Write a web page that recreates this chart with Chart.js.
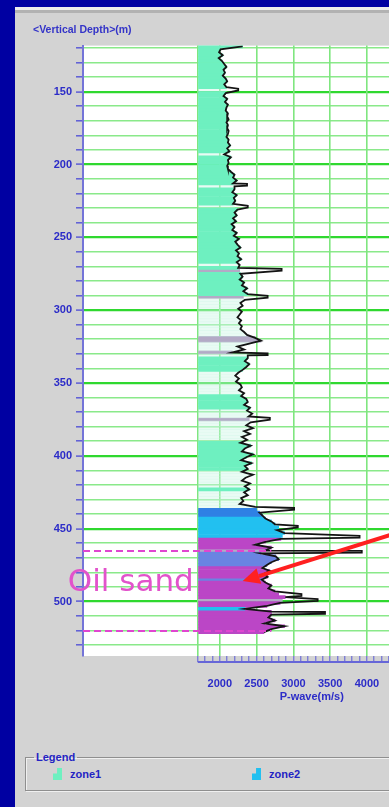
<!DOCTYPE html>
<html>
<head>
<meta charset="utf-8">
<title>P-wave log</title>
<script src="https://cdn.jsdelivr.net/npm/chart.js@4/dist/chart.umd.min.js"></script>
<style>
  html, body { margin: 0; padding: 0; }
  body { width: 389px; height: 807px; background: #0000a2; position: relative; overflow: hidden; }
  #panel { position: absolute; left: 15px; top: 7px; right: 0; bottom: 0; background: #d3d3d3;
           box-shadow: inset 0 3px 0 #ececec, inset 0 6px 0 #b2b2b2; }
  #log { position: absolute; left: 15px; top: 13px; }
  #legend { position: absolute; left: 25px; top: 751px; width: 440px; height: 40px; box-sizing: border-box;
            margin: 0; padding: 0; border: 1px solid #8f8f8f;
            box-shadow: inset 1px 1px 0 #f0f0f0, 1px 1px 0 #f0f0f0; }
  #legend legend { margin-left: 8px; padding: 0 2px; color: #2424c4;
                   font: bold 11px 'Liberation Sans', Arial, sans-serif; }
  #items { display: flex; padding-left: 27px; margin-top: 5px; white-space: nowrap; }
  .item { width: 199px; flex: none; display: flex; align-items: center; color: #2424c4;
          font: bold 11px 'Liberation Sans', Arial, sans-serif; }
  .icon { width: 9px; height: 12px; margin-right: 8px;
          clip-path: polygon(0 45%, 45% 45%, 45% 0, 100% 0, 100% 100%, 0 100%); }
</style>
</head>
<body>
<div id="panel"></div>
<canvas id="log" width="374" height="703"></canvas>
<fieldset id="legend"><legend>Legend</legend><div id="items"></div></fieldset>
<script>
// Depth sampling of the log (m): first sample and interval
const DEPTH_TOP = 119;
const DEPTH_STEP = 2;

// P-wave velocity (m/s) on the depth grid, rows of ten
const VP = [
  2310, 2010, 1990, 2040, 1985, 2030, 2060, 2090, 2050, 2070,   // 119-137
  2040, 2080, 2100, 2060, 2090, 2090, 2080, 2050, 2100, 2070,   // 139-157
  2110, 2090, 2080, 2110, 2100, 2120, 2090, 2110, 2100, 2120,   // 159-177
  2110, 2090, 2120, 2110, 2140, 2100, 2130, 2060, 2150, 2110,   // 179-197
  2120, 2100, 2110, 2150, 2200, 2180, 2230, 2180, 2200, 2200,   // 199-217
  2170, 2230, 2190, 2210, 2180, 2200, 2240, 2200, 2230, 2180,   // 219-237
  2220, 2160, 2200, 2170, 2230, 2190, 2260, 2210, 2240, 2280,   // 239-257
  2220, 2260, 2240, 2290, 2230, 2270, 2250, 2270, 2280, 2310,   // 259-277
  2270, 2330, 2300, 2370, 2320, 2380, 2320, 2340, 2280, 2310,   // 279-297
  2250, 2300, 2270, 2240, 2290, 2260, 2300, 2280, 2330, 2370,   // 299-317
  2480, 2560, 2400, 2240, 2330, 2170, 2380, 2380, 2340, 2400,   // 319-337
  2360, 2310, 2250, 2210, 2260, 2220, 2280, 2300, 2260, 2330,   // 339-357
  2290, 2360, 2380, 2330, 2410, 2370, 2440, 2390, 2400, 2420,   // 359-377
  2360, 2450, 2330, 2410, 2300, 2370, 2280, 2420, 2340, 2300,   // 379-397
  2450, 2360, 2290, 2430, 2340, 2380, 2300, 2450, 2350, 2300,   // 399-417
  2410, 2340, 2400, 2330, 2380, 2290, 2320, 2270, 2480, 2500,   // 419-437
  2540, 2580, 2620, 2700, 2750, 2800, 2780, 2880, 2850, 2830,   // 439-457
  2620, 2480, 2700, 2620, 2560, 2760, 2800, 2700, 2640, 2580,   // 459-477
  2680, 2600, 2650, 2570, 2620, 2700, 2660, 2750, 2800, 2890,   // 479-497
  2850, 2820, 2640, 2340, 2700, 2700, 2660, 2750, 2610, 2880,   // 499-517
  2700, 2600                                                    // 519-521
];

// Thin high-velocity spikes: [depth (m), P-wave (m/s)]
const SPIKES = [
  [148.6, 2250], [213.9, 2370], [229.0, 2380], [272.3, 2840], [290.8, 2650],
  [330.2, 2650], [374.6, 2680], [436.4, 3010], [448.6, 3060], [455.6, 3900],
  [465.9, 3930], [495.5, 3110], [498.9, 3330], [507.8, 3430]
];

// Zone runs down the well: [top, bottom, class]
const ZONE_RUNS = [
  [119, 147, 'zone1'], [149, 149, 'gap'], [151, 191, 'zone1'], [193, 193, 'gap'],
  [195, 213, 'zone1'], [215, 215, 'gap'], [217, 227, 'zone1'], [229, 229, 'gap'],
  [231, 267, 'zone1'], [269, 269, 'gap'], [271, 271, 'zone1'], [273, 273, 'flag'],
  [275, 289, 'zone1'], [291, 291, 'flag'], [293, 317, 'gap'], [319, 321, 'flag'],
  [323, 327, 'gap'], [329, 329, 'flag'], [331, 331, 'gap'], [333, 341, 'zone1'],
  [343, 357, 'gap'], [359, 367, 'zone1'], [369, 373, 'gap'], [375, 375, 'flag'],
  [377, 389, 'gap'], [391, 409, 'zone1'], [411, 421, 'gap'], [423, 423, 'zone1'],
  [425, 435, 'gap'], [437, 441, 'zone4'], [443, 455, 'zone2'], [457, 463, 'zone3'],
  [465, 465, 'flag'], [467, 475, 'zone5'], [477, 483, 'zone3'], [485, 485, 'zone5'],
  [487, 497, 'zone3'], [499, 499, 'flag'], [501, 503, 'zone3'], [505, 505, 'zone2'],
  [507, 521, 'zone3']
];

const ZONE_NAMES = ['zone1', 'zone2', 'zone3', 'zone4', 'zone5'];
const ZONE_COLORS = ['#6ef0c0', '#22c0f0', '#bb46c6', '#2f80e4', '#6a84e2'];
const GAP_COLOR = 'rgba(200, 244, 228, 0.4)';
const FLAG_COLOR = '#b3aac6';

// Axis ticks
const Y_TICKS = [120, 130, 140, 150, 160, 170, 180, 190, 200, 210, 220, 230, 240, 250,
                 260, 270, 280, 290, 300, 310, 320, 330, 340, 350, 360, 370, 380, 390,
                 400, 410, 420, 430, 440, 450, 460, 470, 480, 490, 500, 510, 520, 530];
const X_TICKS = [1700, 1800, 1900, 2000, 2100, 2200, 2300, 2400, 2500, 2600, 2700, 2800,
                 2900, 3000, 3100, 3200, 3300, 3400, 3500, 3600, 3700, 3800, 3900, 4000,
                 4100, 4200, 4300];

// Oil sand interval (m) and the annotation pointing at it
const OIL_SAND = [465.5, 520.5];
const OIL_SAND_LABEL = 'Oil sand';
const ARROW_FROM = [4400, 453];
const ARROW_TO = [2310, 486];

// Plot extents
const Y_MIN = 118.4, Y_MAX = 537.4;
const X_MIN = 140, X_MAX = 4300;
const TRACK_MIN = 1700, TRACK_MAX = 4800;
const SPIKE_HALF = 0.6;   // half thickness of a spike, m

const LABEL_FONT = "'Liberation Sans', Arial, sans-serif";
const AXIS_BLUE = '#2c2cc8';

const depths = VP.map((_, i) => DEPTH_TOP + i * DEPTH_STEP);
const zoneAt = d => { const r = ZONE_RUNS.find(z => d >= z[0] && d <= z[1]); return r ? r[2] : 'gap'; };
const samples = depths.map((d, i) => ({ y: d, x: VP[i], zone: zoneAt(d) }));

// curve points: grid samples plus flat-topped spikes, in depth order
const curvePts = samples
  .filter(s => !SPIKES.some(([d]) => Math.abs(d - s.y) < SPIKE_HALF + 0.1))
  .map(s => ({ x: s.x, y: s.y }))
  .concat(SPIKES.flatMap(([d, v]) => [{ x: v, y: d - SPIKE_HALF }, { x: v, y: d + SPIKE_HALF }]))
  .sort((a, b) => a.y - b.y);

const fillClasses = ZONE_NAMES.map((n, i) => ({ key: n, color: ZONE_COLORS[i] }))
  .concat([{ key: 'gap', color: GAP_COLOR }, { key: 'flag', color: FLAG_COLOR }]);

const barSets = fillClasses.map(c => ({
  type: 'bar',
  label: c.key,
  indexAxis: 'y',
  data: samples.filter(s => s.zone === c.key).map(s => ({ x: s.x, y: s.y })),
  backgroundColor: c.color,
  borderWidth: 0,
  base: TRACK_MIN,
  grouped: false,
  barPercentage: 1,
  categoryPercentage: 1,
  order: 2
}));

const curve = {
  type: 'line',
  label: 'P-wave',
  indexAxis: 'y',
  data: curvePts,
  borderColor: '#141414',
  borderWidth: 1.8,
  pointRadius: 0,
  tension: 0,
  order: 0
};

const overlay = {
  id: 'overlay',
  beforeDraw(chart) {
    const { ctx, chartArea: a } = chart;
    ctx.save();
    ctx.fillStyle = '#ffffff';
    ctx.fillRect(a.left, a.top, a.right - a.left, a.bottom - a.top);
    ctx.restore();
  },
  afterDatasetsDraw(chart) {
    const { ctx, scales: { x, y }, chartArea: a } = chart;
    ctx.save();
    ctx.strokeStyle = '#e046d0';
    ctx.lineWidth = 2;
    ctx.setLineDash([7, 4]);
    OIL_SAND.forEach(d => {
      const py = Math.round(y.getPixelForValue(d));
      ctx.beginPath();
      ctx.moveTo(a.left, py);
      ctx.lineTo(x.getPixelForValue(2700), py);
      ctx.stroke();
    });
    ctx.restore();
  },
  afterDraw(chart) {
    const { ctx, scales: { x, y }, chartArea: a } = chart;
    ctx.save();
    // baseline of the velocity track axis
    const base = x.top + x.options.grid.tickLength;
    ctx.strokeStyle = '#6666d8';
    ctx.lineWidth = 2;
    ctx.beginPath();
    ctx.moveTo(x.getPixelForValue(TRACK_MIN), base);
    ctx.lineTo(a.right, base);
    ctx.stroke();
    // track title
    ctx.fillStyle = AXIS_BLUE;
    ctx.font = 'bold 11px ' + LABEL_FONT;
    ctx.textAlign = 'center';
    ctx.textBaseline = 'middle';
    ctx.fillText('P-wave(m/s)', (x.getPixelForValue(TRACK_MIN) + x.getPixelForValue(TRACK_MAX)) / 2, base + 35);
    // oil sand label
    ctx.fillStyle = '#e253cb';
    ctx.font = '31px "DejaVu Sans", sans-serif';
    ctx.textAlign = 'right';
    ctx.fillText(OIL_SAND_LABEL, x.getPixelForValue(TRACK_MIN) - 4, y.getPixelForValue(487.5));
    // arrow
    const x0 = x.getPixelForValue(ARROW_FROM[0]), y0 = y.getPixelForValue(ARROW_FROM[1]);
    const x1 = x.getPixelForValue(ARROW_TO[0]), y1 = y.getPixelForValue(ARROW_TO[1]);
    const ang = Math.atan2(y1 - y0, x1 - x0);
    const head = 17, half = 8;
    const bx = x1 - head * Math.cos(ang), by = y1 - head * Math.sin(ang);
    ctx.strokeStyle = '#ff2020';
    ctx.fillStyle = '#ff2020';
    ctx.lineWidth = 4;
    ctx.beginPath();
    ctx.moveTo(x0, y0);
    ctx.lineTo(bx, by);
    ctx.stroke();
    ctx.beginPath();
    ctx.moveTo(x1, y1);
    ctx.lineTo(bx + half * Math.sin(ang), by - half * Math.cos(ang));
    ctx.lineTo(bx - half * Math.sin(ang), by + half * Math.cos(ang));
    ctx.closePath();
    ctx.fill();
    ctx.restore();
  }
};

new Chart(document.getElementById('log'), {
  type: 'bar',
  data: { datasets: [curve].concat(barSets) },
  options: {
    indexAxis: 'y',
    responsive: false,
    animation: false,
    devicePixelRatio: 1,
    layout: { padding: { left: 18, right: 0, top: 0, bottom: 0 } },
    plugins: {
      legend: { display: false },
      tooltip: { enabled: false },
      title: {
        display: true,
        text: '<Vertical Depth>(m)',
        align: 'start',
        color: '#3434c8',
        font: { family: LABEL_FONT, size: 10.5, weight: 'bold' },
        padding: { top: 11, bottom: 9 }
      }
    },
    scales: {
      y: {
        type: 'linear',
        reverse: true,
        offset: false,
        min: Y_MIN,
        max: Y_MAX,
        afterBuildTicks: s => { s.ticks = Y_TICKS.map(v => ({ value: v })); },
        afterFit: s => { s.width = 50; s.paddingTop = 0; s.paddingBottom = 0; },
        ticks: {
          autoSkip: false,
          padding: 4,
          color: AXIS_BLUE,
          font: { family: LABEL_FONT, size: 11, weight: 'bold' },
          callback: v => (v % 50 === 0 ? String(v) : '')
        },
        grid: {
          offset: false,
          color: c => (c.tick && c.tick.value % 50 === 0 ? '#2fd82f' : '#8ae98a'),
          lineWidth: c => (c.tick && c.tick.value % 50 === 0 ? 2.2 : 1.6),
          tickColor: '#5c5cd6',
          tickWidth: 1.5,
          tickLength: 7
        },
        border: { color: '#7474d8', width: 2 }
      },
      x: {
        type: 'linear',
        offset: false,
        min: X_MIN,
        max: X_MAX,
        afterBuildTicks: s => { s.ticks = X_TICKS.map(v => ({ value: v })); },
        afterFit: s => { s.height = 60; s.paddingLeft = 0; s.paddingRight = 0; },
        ticks: {
          autoSkip: false,
          maxRotation: 0,
          padding: 15,
          color: AXIS_BLUE,
          font: { family: LABEL_FONT, size: 11, weight: 'bold' },
          callback: v => (v % 500 === 0 ? String(v) : '')
        },
        grid: {
          color: c => (c.tick && (c.tick.value % 500 === 0 || c.tick.value === TRACK_MIN) ? '#7fe67f' : 'rgba(0,0,0,0)'),
          lineWidth: 1.6,
          tickColor: '#5c5cd6',
          tickWidth: 1,
          tickLength: 6
        },
        border: { display: false }
      }
    }
  },
  plugins: [overlay]
});

// legend entries
const items = document.getElementById('items');
ZONE_NAMES.forEach((n, i) => {
  const el = document.createElement('div');
  el.className = 'item';
  const ic = document.createElement('span');
  ic.className = 'icon';
  ic.style.background = ZONE_COLORS[i];
  el.appendChild(ic);
  el.appendChild(document.createTextNode(n));
  items.appendChild(el);
});
</script>
</body>
</html>
